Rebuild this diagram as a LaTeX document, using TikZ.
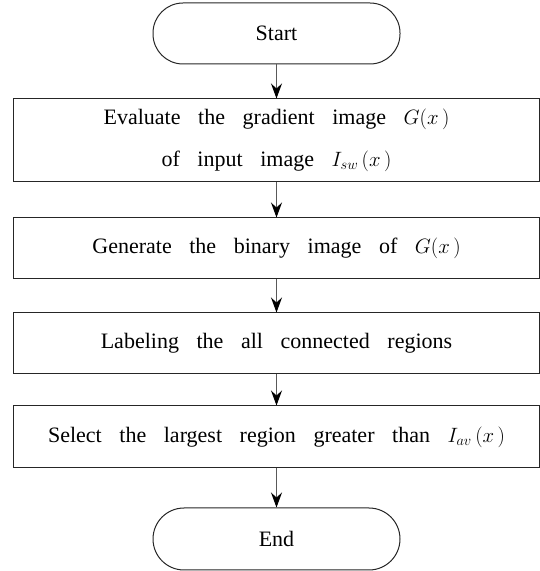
\documentclass[tikz,border=0pt]{standalone}
\usepackage{fontspec}
\setmainfont{Liberation Serif}
\usetikzlibrary{arrows.meta}
\tikzset{
  x=1pt, y=1pt,
  procbox/.style={draw=black!85, line width=1pt, rectangle, minimum width=526pt,
    inner sep=0pt, align=center, font=\fontsize{22}{42}\selectfont},
  termbox/.style={draw=black!85, line width=1pt, rectangle, rounded corners=30pt,
    minimum width=247pt, minimum height=61pt, inner sep=0pt, font=\fontsize{22}{24}\selectfont},
  flow/.style={draw=black!65, line width=1pt,
    -{Stealth[length=15pt,width=11pt,inset=5pt,color=black]}},
}
\newcommand{\wsp}{\spaceskip=0.8em plus 0.1em\relax}
\begin{document}
\begin{tikzpicture}
  \useasboundingbox (0,0) rectangle (540,571);
  \node[termbox] (start) at (276.5,537.5) {Start};
  \node[procbox, minimum height=83pt] (b1) at (276.5,430.5)
    {\wsp Evaluate the gradient image $G(x\,)$\\ \wsp of input image $I_{sw}\,(x\,)$};
  \node[procbox, minimum height=61pt] (b2) at (276.5,322.5)
    {\wsp Generate the binary image of $G(x\,)$};
  \node[procbox, minimum height=61pt] (b3) at (276.5,227.5)
    {\wsp Labeling the all connected regions};
  \node[procbox, minimum height=62pt] (b4) at (276.5,134)
    {\wsp Select the largest region greater than $I_{av}\,(x\,)$};
  \node[termbox, minimum height=62pt, rounded corners=31pt] (end) at (276.5,32) {End};
  \draw[flow] (start) -- (b1);
  \draw[flow] (b1) -- (b2);
  \draw[flow] (b2) -- (b3);
  \draw[flow] (b3) -- (b4);
  \draw[flow] (b4) -- (end);
\end{tikzpicture}
\end{document}
